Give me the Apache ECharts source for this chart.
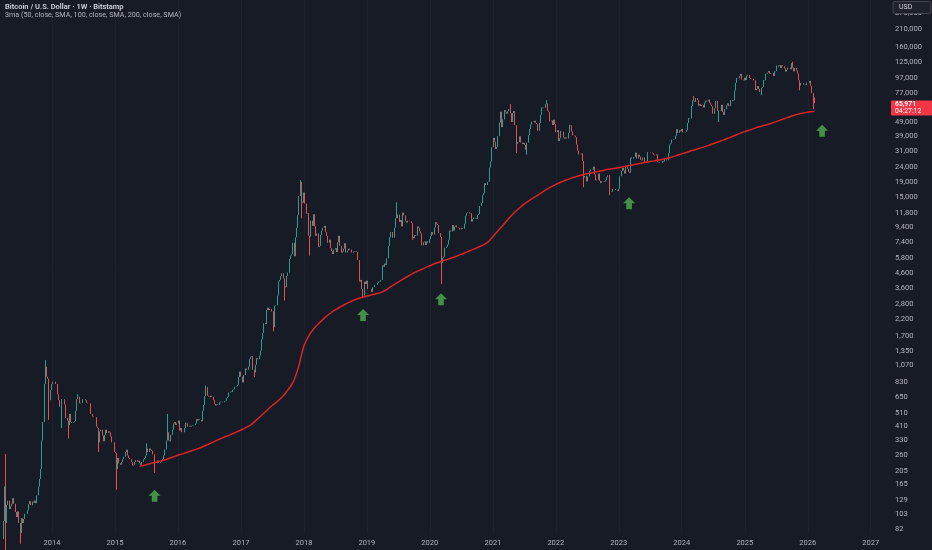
<!DOCTYPE html>
<html>
<head>
<meta charset="utf-8">
<script src="https://cdn.jsdelivr.net/npm/echarts@6/dist/echarts.min.js"></script>
<style>
html,body{margin:0;padding:0;background:#171b26;}
#chart{width:932px;height:550px;}
</style>
</head>
<body>
<div id="chart"></div>
<script>
// ---------------- DATA ----------------
const titleText = 'Bitcoin / U.S. Dollar · 1W · Bitstamp';
const indicatorText = '3ma (50, close, SMA, 100, close, SMA, 200, close, SMA)';
const currencyText = 'USD';
const countdownText = '04:27:12';

const firstWeek = '2013-03-04';   // Monday of the first weekly bar
const firstOpen = 34;

// weekly closes, bars starting on Mondays of each year
const close2013 = [46,47,70,93,160,90,120,128,112,117,122,133,122,107,99,108,90,77,97,90,96,104,104,110,121,127,119,126,124,128,123,139,160,180,210,330,440,800,1050,900,870,620,730,800];
const close2014 = [830,830,800,800,680,620,560,630,630,630,580,470,450,420,500,440,435,440,445,525,630,655,590,595,595,630,630,620,595,590,590,500,500,480,475,475,410,400,320,380,390,355,325,360,390,370,380,375,350,320,320,275];
const close2015 = [270,210,250,230,225,235,245,255,275,285,260,250,245,235,222,225,235,242,236,240,230,225,235,245,250,260,290,275,290,285,280,265,230,230,230,240,232,235,238,245,260,285,330,375,330,325,360,390,430,440,420,430];
const close2016 = [450,385,400,375,375,400,435,430,410,415,410,415,418,420,430,460,450,460,455,445,525,575,660,760,665,655,650,665,655,620,585,570,580,575,600,607,605,600,610,615,640,655,700,710,705,730,735,765,770,790,890,970];
const close2017 = [900,820,920,920,1020,1000,1050,1180,1230,1240,1000,960,1080,1200,1180,1250,1350,1610,1780,2080,2050,2550,2650,2550,2600,2500,2500,1950,2730,2750,3200,4000,4100,4350,4550,4200,3700,3650,4370,4600,5700,6000,6140,7350,5950,8000,9300,11300,15300,19100,14000,13800];
const close2018 = [16200,13600,11600,11700,8200,8100,10400,9600,11500,9500,8200,8500,6900,7000,8300,8900,9300,9600,8700,8200,7350,7700,6750,6450,6150,6600,6750,6350,7400,8200,7000,6300,6400,6700,7300,6300,6500,6700,6600,6600,6300,6400,6350,6400,6350,5600,4000,4100,3550,3200,4000,3850,4050];
const close2019 = [3550,3550,3550,3400,3650,3650,3800,3800,3900,4000,3990,4100,5150,5050,5300,5200,5750,7000,8000,8700,8700,7950,9300,10800,10800,11450,10200,10500,9500,11800,11300,10300,10100,10400,10400,10300,10000,8050,7900,8300,8200,9500,9300,8800,8500,7050,7400,7500,7100,7500,7350,7750];
const close2020 = [8150,8700,8350,9350,10150,9900,9700,8550,8050,5350,5800,5900,6800,6900,7150,7700,8900,8750,9700,8900,9450,9650,9350,9300,9050,9050,9250,9150,9900,11200,11700,11850,11650,11700,10250,10650,10900,10750,10650,11350,11500,13100,13750,15500,16000,18700,18200,19100,19200,24000,26300,33000];
const close2021 = [38200,36000,32100,33100,39200,48600,57500,45200,51000,59000,57400,55800,57900,60000,56300,49000,56600,58200,46500,34800,35600,35800,39100,35500,34700,35300,34200,31700,35400,39800,43800,47100,49300,48900,49900,48300,47300,42700,48200,54900,61500,60900,61300,64900,65500,58600,57200,49400,50100,46700,50800,47300];
const close2022 = [41800,43100,36300,37900,42400,42200,38400,37700,38400,37800,41300,46800,46400,42200,39700,39500,38500,34300,31300,29400,29500,29900,26600,20500,21000,19300,20800,20800,22600,23300,23200,24300,21500,19600,19800,21800,19400,18800,19300,19400,19200,19600,20600,21200,16300,16300,16400,17100,17100,16800,16800,16600];
const close2023 = [17200,20900,22700,23800,22900,21800,24600,23500,22400,22100,28000,27600,28200,28300,30300,27600,29300,28400,27000,26800,28100,25800,25900,26300,30500,30500,30300,30300,29900,29300,29000,29400,26100,26000,25800,25800,26500,26300,27900,27900,26800,30000,34500,35000,37100,37400,37500,39500,43700,41300,43000,42300];
const close2024 = [43900,41700,41600,42000,43000,48300,52100,51700,63000,68900,68400,67200,71300,69400,63400,64900,63100,64000,61500,66300,68500,67700,69600,66200,64300,62700,55800,60800,68200,68300,58100,58700,58400,64200,57300,54800,59900,63600,65600,62800,62800,69000,68000,68700,80400,90600,98000,97300,101100,104400,95300,94000,98300];
const close2025 = [94500,101300,102600,97700,96500,96100,96300,94300,80700,82600,86100,82400,78400,83700,85000,94700,94300,104600,106500,109000,104600,105700,105500,100900,108400,109200,119100,117300,119400,114200,119300,117400,113500,108300,111100,115300,115300,112200,123500,115200,108600,114500,110000,104700,94500,86800,90400,90400,88100,88300,87500,91000];
const close2026 = [90800,93500,86500,77000,70500,65971];

// notable wick extremes (week Monday, price)
const wickHighs = [['2013-04-08',266],['2013-11-25',1163],['2014-06-02',680],['2015-07-06',315],['2015-11-02',500],['2016-06-13',780],['2017-12-11',19666],['2019-06-24',13880],['2021-04-12',64900],['2021-11-08',69000],['2024-03-11',73800],['2025-10-06',126200],['2026-02-09',72000]];
const wickLows = [['2013-04-08',50],['2013-07-01',65],['2013-12-16',455],['2014-02-24',400],['2014-04-07',340],['2014-09-29',275],['2015-01-12',152],['2015-08-17',198],['2017-03-20',890],['2017-07-10',1830],['2017-09-11',2970],['2017-12-18',10800],['2018-02-05',6000],['2018-12-10',3120],['2019-09-23',7700],['2020-03-09',3850],['2021-05-17',30000],['2021-07-19',29300],['2022-06-13',17600],['2022-11-07',15500],['2024-08-05',49000],['2025-04-07',74500],['2025-11-17',80600],['2026-02-02',60000]];

// 200-week SMA, read monthly (first of month) from the curve
const smaFirst = ['2015-05-25', 218];
const smaStartMonth = '2015-06';
const sma2015 = [221,225,230,235,240,246,253];
const sma2016 = [261,268,275,283,291,301,313,325,337,349,361,374];
const sma2017 = [388,405,423,455,490,530,570,610,660,730,830,1050];
const sma2018 = [1450,1720,1920,2090,2260,2420,2560,2690,2810,2930,3030,3110];
const sma2019 = [3190,3250,3310,3400,3560,3760,3960,4170,4380,4580,4760,4940];
const sma2020 = [5120,5310,5460,5600,5760,5930,6120,6340,6570,6800,7050,7400];
const sma2021 = [8100,8900,9700,10700,11700,12600,13500,14300,15100,15900,16800,17600];
const sma2022 = [18400,19100,19700,20300,20800,21300,21700,22100,22500,22900,23300,23600];
const sma2023 = [23900,24300,24700,25100,25500,25900,26300,26700,27100,27600,28200,28900];
const sma2024 = [29700,30500,31300,32100,32900,33800,34800,35900,37000,38200,39500,40800];
const sma2025 = [42100,43300,44500,45600,46700,47900,49300,50800,52300,53800,55200,56300];
const sma2026 = [57200,57800];
const smaLast = ['2026-02-09', 58000];

// green arrow markers (date, price)
const arrowMarks = [['2015-08-19',138],['2018-12-10',2364],['2020-03-06',3024],['2023-03-02',13660],['2026-03-25',42740]];

// axis ticks
const yearTicks = [2014,2015,2016,2017,2018,2019,2020,2021,2022,2023,2024,2025,2026,2027];
const priceTicks = [82,103,129,165,205,260,330,410,510,650,830,1070,1350,1700,2200,2800,3600,4600,5800,7400,9400,11800,15000,19000,24000,31000,39000,49000,77000,97000,125000,160000,210000,270000];

// ---------------- BUILD ----------------
const DAY = 86400000;
const parseD = s => { const p = s.split('-').map(Number); return Date.UTC(p[0], p[1]-1, p[2] || 1); };
const L = v => Math.log10(v);
const start = parseD(firstWeek);
const closes = [].concat(close2013, close2014, close2015, close2016, close2017, close2018, close2019, close2020, close2021, close2022, close2023, close2024, close2025, close2026);
const weekIdx = s => Math.round((parseD(s) - start) / (7*DAY));
const hiMap = {}; wickHighs.forEach(w => hiMap[weekIdx(w[0])] = w[1]);
const loMap = {}; wickLows.forEach(w => loMap[weekIdx(w[0])] = w[1]);

const candles = closes.map((c, i) => {
  const o = i === 0 ? firstOpen : closes[i-1];
  let hi = Math.max(o, c), lo = Math.min(o, c);
  if (hiMap[i] != null) hi = Math.max(hi, hiMap[i]);
  if (loMap[i] != null) lo = Math.min(lo, loMap[i]);
  return [start + i*7*DAY, L(o), L(c), L(lo), L(hi)];
});

const smaYears = [sma2015, sma2016, sma2017, sma2018, sma2019, sma2020, sma2021, sma2022, sma2023, sma2024, sma2025, sma2026];
const smaLine = [[parseD(smaFirst[0]), L(smaFirst[1])]];
let sy = Number(smaStartMonth.slice(0,4)), sm = Number(smaStartMonth.slice(5,7)) - 1;
smaYears.forEach(arr => arr.forEach(v => {
  smaLine.push([Date.UTC(sy, sm, 1), L(v)]);
  sm++; if (sm > 11) { sm = 0; sy++; }
}));
smaLine.push([parseD(smaLast[0]), L(smaLast[1])]);

const arrows = arrowMarks.map(a => [parseD(a[0]), L(a[1])]);

// layout constants (pixels)
const W = 932, H = 550, GRID_RIGHT = 44, GRID_BOTTOM = 17;
const PX_PER_YEAR = 62.98, X_2014 = 52;
const YEAR_MS = 365.25*DAY;
const t2014 = Date.UTC(2014,0,1);
const xMin = t2014 - X_2014 / PX_PER_YEAR * YEAR_MS;
const xMax = t2014 + (W - GRID_RIGHT - X_2014) / PX_PER_YEAR * YEAR_MS;
const yMin = 1.8865, yMax = 5.5223;

const FONT = 'Roboto, "Open Sans", sans-serif';
const fmtPrice = v => Math.round(Math.pow(10, v)).toLocaleString('en-US');
const yearTickValues = yearTicks.map(y => Date.UTC(y,0,1));
const priceTickValues = priceTicks.map(L);

const chart = echarts.init(document.getElementById('chart'), null, {renderer: 'canvas'});
chart.setOption({
  animation: false,
  backgroundColor: '#171b26',
  grid: {left: 0, right: GRID_RIGHT, top: 0, bottom: GRID_BOTTOM, outerBoundsMode: 'none', containLabel: false},
  xAxis: {
    type: 'value', min: xMin, max: xMax,
    axisLine: {show: false},
    axisTick: {show: false, customValues: yearTickValues},
    axisLabel: {
      customValues: yearTickValues,
      formatter: v => String(new Date(v).getUTCFullYear()),
      color: '#b2b5be', fontSize: 7.5, fontFamily: FONT, margin: 6, hideOverlap: false
    },
    splitLine: {show: true, lineStyle: {color: '#1d212d', width: 1}}
  },
  yAxis: {
    type: 'value', position: 'right', min: yMin, max: yMax,
    axisLine: {show: false},
    axisTick: {show: false, customValues: priceTickValues},
    axisLabel: {
      customValues: priceTickValues,
      formatter: fmtPrice,
      color: '#b2b5be', fontSize: 7.6, fontFamily: FONT, margin: 7, hideOverlap: false
    },
    splitLine: {show: false}
  },
  series: [
    {
      type: 'candlestick', name: 'BTCUSD', data: candles, large: false, progressive: 0,
      encode: {x: 0, y: [1, 2, 3, 4]},
      barWidth: 0.8,
      itemStyle: {color: '#22a094', color0: '#e84b51', borderColor: '#22a094', borderColor0: '#e84b51', borderWidth: 1},
      z: 2
    },
    {
      type: 'line', name: 'SMA 200', data: smaLine, showSymbol: false, smooth: 0.3,
      lineStyle: {color: '#d9232a', width: 1.5}, z: 3
    },
    {
      type: 'scatter', name: 'marks', data: arrows,
      symbol: 'path://M6,0L12,6L8.8,6L8.8,12L3.2,12L3.2,6L0,6Z', symbolSize: [12, 12],
      itemStyle: {color: '#4caf50'}, z: 4
    }
  ]
});

// overlay texts: title, currency box, current-price label tied to the last close
const lastClose = closes[closes.length - 1];
const py = chart.convertToPixel({yAxisIndex: 0}, L(lastClose));
chart.setOption({
  graphic: [
    {type: 'text', left: 5, top: 3, style: {text: titleText, fill: '#d1d4dc', font: '600 7.5px ' + FONT}, z: 10},
    {type: 'text', left: 5, top: 11.5, style: {text: indicatorText, fill: '#b2b5be', font: '7.2px ' + FONT}, z: 10},
    {type: 'rect', shape: {x: 893, y: 1.5, width: 38, height: 12, r: 2}, style: {fill: '#1e222d', stroke: '#434651', lineWidth: 1}, z: 10},
    {type: 'text', x: 899, y: 7.5, style: {text: currencyText, fill: '#d1d4dc', font: '7px ' + FONT, verticalAlign: 'middle'}, z: 11},
    {type: 'rect', shape: {x: 891, y: py - 2.5, width: 41, height: 15, r: 1}, style: {fill: '#f23645'}, z: 10},
    {type: 'text', x: 895, y: py + 1.6, style: {text: lastClose.toLocaleString('en-US'), fill: '#ffffff', font: '600 6.8px ' + FONT, verticalAlign: 'middle'}, z: 11},
    {type: 'text', x: 895, y: py + 8.6, style: {text: countdownText, fill: '#ffffff', font: '6.8px ' + FONT, verticalAlign: 'middle'}, z: 11}
  ]
});
</script>
</body>
</html>
